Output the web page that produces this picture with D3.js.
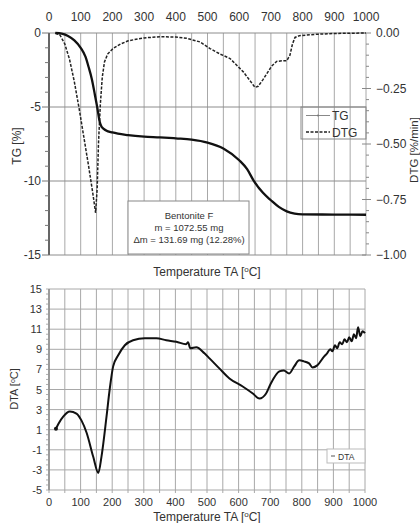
<!DOCTYPE html>
<html>
<head>
<meta charset="utf-8">
<script src="https://cdn.jsdelivr.net/npm/d3@7.9.0/dist/d3.min.js"></script>
<style>
  body { margin: 0; background: #fff; }
  text { font-family: "Liberation Sans", Arial, sans-serif; fill: #333; }
</style>
</head>
<body>
<svg id="chart" width="420" height="523"></svg>
<script>
// values
const tempTicks = [0, 100, 200, 300, 400, 500, 600, 700, 800, 900, 1000];
const tgTicks = [0, -5, -10, -15];
const dtgTicks = [0, -0.25, -0.5, -0.75, -1];
const dtaTicks = [15, 13, 11, 9, 7, 5, 3, 1, -1, -3, -5];

const tgTemp = [20, 40, 60, 80, 100, 115, 125, 135, 145, 152, 160, 166, 180, 200, 250, 300, 350, 400, 450, 500, 550, 600, 625, 645, 675, 700, 725, 750, 775, 800, 900, 1000];
const tgValue = [0, -0.05, -0.2, -0.5, -1.0, -1.6, -2.3, -3.1, -4.2, -5.0, -6.0, -6.35, -6.58, -6.72, -6.9, -7.0, -7.05, -7.12, -7.2, -7.4, -7.8, -8.6, -9.2, -9.95, -10.8, -11.3, -11.75, -12.05, -12.2, -12.25, -12.27, -12.28];

const dtgTemp = [20, 35, 50, 65, 80, 95, 110, 125, 138, 147, 152, 156, 162, 168, 175, 185, 202, 225, 250, 300, 350, 400, 434, 476, 508, 540, 571, 613, 650, 660, 675, 702, 718, 735, 750, 760, 768, 776, 790, 842, 900, 1000];
const dtgValue = [0, -0.01, -0.05, -0.12, -0.22, -0.34, -0.47, -0.6, -0.72, -0.81, -0.7, -0.5, -0.32, -0.2, -0.13, -0.095, -0.07, -0.05, -0.035, -0.022, -0.017, -0.018, -0.024, -0.04, -0.07, -0.095, -0.115, -0.175, -0.245, -0.24, -0.21, -0.15, -0.128, -0.125, -0.125, -0.1, -0.05, -0.02, -0.012, -0.006, -0.002, 0];

const dtaTemp = [22, 30, 45, 66, 87, 103, 119, 140, 156, 166, 182, 192, 203, 219, 240, 266, 303, 340, 371, 403, 434, 440, 447, 466, 492, 508, 539, 571, 613, 645, 666, 687, 702, 729, 743, 760, 776, 792, 807, 823, 834, 849, 871, 880, 890, 897, 905, 912, 920, 928, 935, 943, 950, 958, 965, 972, 978, 985, 992, 1000];
const dtaValue = [1.1, 1.6, 2.3, 2.8, 2.6, 1.9, 0.7, -1.7, -3.3, -1.7, 2.3, 5.0, 7.3, 8.4, 9.4, 9.9, 10.1, 10.1, 9.9, 9.75, 9.5, 9.7, 9.1, 9.2, 8.6, 8.1, 7.1, 6.1, 5.3, 4.6, 4.1, 4.6, 5.6, 6.8, 6.9, 6.6, 7.3, 7.9, 7.8, 7.6, 7.2, 7.4, 8.3, 8.6, 9.0, 8.8, 9.4, 9.1, 9.7, 9.5, 10.0, 9.7, 10.2, 9.8, 10.5, 10.1, 11.2, 10.3, 10.8, 10.6];

const boxLines = ['Bentonite F', 'm = 1072.55 mg', '\u0394m = 131.69 mg (12.28%)'];

const svg = d3.select('#chart');
const gridColor = '#a8a8a8';

// scales
const xTop = d3.scaleLinear().domain([0, 1000]).range([49, 366]);
const yTG = d3.scaleLinear().domain([-15, 0]).range([255, 33]);
const yDTG = d3.scaleLinear().domain([-1, 0]).range([255, 33]);
const xBot = d3.scaleLinear().domain([0, 1000]).range([49, 365]);
const yDTA = d3.scaleLinear().domain([-5, 15]).range([490, 289]);

function tempLabel(g, x, y) {
  const t = g.append('text').attr('x', x).attr('y', y)
    .attr('text-anchor', 'middle').attr('font-size', 12);
  t.append('tspan').text('Temperature TA [');
  t.append('tspan').attr('font-size', 8).attr('dy', -4).text('o');
  t.append('tspan').attr('dy', 4).text('C]');
}

// ---------- top panel: TG / DTG ----------
const topPanel = svg.append('g');

topPanel.selectAll('line.vgrid').data(d3.range(0, 1001, 50)).join('line')
  .attr('x1', d => xTop(d)).attr('x2', d => xTop(d))
  .attr('y1', yTG(0)).attr('y2', yTG(-15))
  .attr('stroke', gridColor).attr('stroke-width', 1);

topPanel.selectAll('line.hgrid').data(tgTicks).join('line')
  .attr('x1', xTop(0)).attr('x2', xTop(1000))
  .attr('y1', d => yTG(d)).attr('y2', d => yTG(d))
  .attr('stroke', '#8c8c8c').attr('stroke-width', 1);

// left axis
topPanel.append('line').attr('x1', xTop(0)).attr('x2', xTop(0))
  .attr('y1', yTG(0)).attr('y2', yTG(-15)).attr('stroke', '#666').attr('stroke-width', 2);
topPanel.selectAll('line.lminor').data(d3.range(-15, 0.5, 1)).join('line')
  .attr('x1', d => xTop(0) - (d % 5 === 0 ? 7 : 4)).attr('x2', xTop(0))
  .attr('y1', d => yTG(d)).attr('y2', d => yTG(d))
  .attr('stroke', '#777').attr('stroke-width', 1);
topPanel.selectAll('text.ltick').data(tgTicks).join('text')
  .attr('x', 41).attr('y', d => yTG(d) + 4)
  .attr('text-anchor', 'end').attr('font-size', 12).text(d => d);

// right axis
topPanel.selectAll('line.rminor').data(d3.range(0, 21)).join('line')
  .attr('x1', d => xTop(1000) - (d % 5 === 0 ? 4 : 0)).attr('x2', d => xTop(1000) + (d % 5 === 0 ? 5 : 3))
  .attr('y1', d => yDTG(-d * 0.05)).attr('y2', d => yDTG(-d * 0.05))
  .attr('stroke', '#888').attr('stroke-width', 1);
topPanel.selectAll('text.rtick').data(dtgTicks).join('text')
  .attr('x', 376).attr('y', d => yDTG(d) + 4)
  .attr('font-size', 12).text(d => d3.format('.2f')(d));

// top temperature ticks
topPanel.selectAll('text.ttick').data(tempTicks).join('text')
  .attr('x', d => xTop(d)).attr('y', 21)
  .attr('text-anchor', 'middle').attr('font-size', 12).text(d => d);

topPanel.append('text').attr('transform', 'translate(21,146) rotate(-90)')
  .attr('text-anchor', 'middle').attr('font-size', 12).text('TG [%]');
topPanel.append('text').attr('transform', 'translate(418,150) rotate(-90)')
  .attr('text-anchor', 'middle').attr('font-size', 11.5).text('DTG [%/min]');
tempLabel(topPanel, 207, 276);

// curves
const tgLine = d3.line().x(d => xTop(d[0])).y(d => yTG(d[1])).curve(d3.curveMonotoneX);
const dtgLine = d3.line().x(d => xTop(d[0])).y(d => yDTG(d[1]));

topPanel.append('path').datum(d3.zip(dtgTemp, dtgValue)).attr('d', dtgLine)
  .attr('fill', 'none').attr('stroke', '#222').attr('stroke-width', 1.5)
  .attr('stroke-dasharray', '3,1.5');
topPanel.append('path').datum(d3.zip(tgTemp, tgValue)).attr('d', tgLine)
  .attr('fill', 'none').attr('stroke', '#111').attr('stroke-width', 2.3);

// legend
const leg = topPanel.append('g');
leg.append('rect').attr('x', 301).attr('y', 107).attr('width', 65).attr('height', 32)
  .attr('fill', 'none').attr('stroke', '#888');
leg.append('line').attr('x1', 306).attr('x2', 330).attr('y1', 115.5).attr('y2', 115.5)
  .attr('stroke', '#888').attr('stroke-width', 1);
leg.append('circle').attr('cx', 318).attr('cy', 115.5).attr('r', 1).attr('fill', '#777');
leg.append('text').attr('x', 332).attr('y', 120).attr('font-size', 12).text('TG');
leg.append('line').attr('x1', 306).attr('x2', 330).attr('y1', 132).attr('y2', 132)
  .attr('stroke', '#222').attr('stroke-width', 1.4).attr('stroke-dasharray', '3,1.5');
leg.append('text').attr('x', 332).attr('y', 136.5).attr('font-size', 12).text('DTG');

// sample box
const box = topPanel.append('g');
box.append('rect').attr('x', 128).attr('y', 201).attr('width', 121).attr('height', 53)
  .attr('fill', '#fff').attr('stroke', '#888');
box.selectAll('text').data(boxLines).join('text')
  .attr('x', 189).attr('y', (d, i) => 219 + i * 12)
  .attr('text-anchor', 'middle').attr('font-size', 9.5).text(d => d);

// ---------- bottom panel: DTA ----------
const botPanel = svg.append('g');

botPanel.selectAll('line.vgrid').data(d3.range(0, 1001, 50)).join('line')
  .attr('x1', d => xBot(d)).attr('x2', d => xBot(d))
  .attr('y1', yDTA(15)).attr('y2', yDTA(-5) + 3)
  .attr('stroke', gridColor).attr('stroke-width', 1);
botPanel.selectAll('line.hgrid').data(dtaTicks).join('line')
  .attr('x1', xBot(0)).attr('x2', xBot(1000))
  .attr('y1', d => yDTA(d)).attr('y2', d => yDTA(d))
  .attr('stroke', gridColor).attr('stroke-width', 1);

botPanel.append('line').attr('x1', xBot(0)).attr('x2', xBot(0))
  .attr('y1', yDTA(15)).attr('y2', yDTA(-5)).attr('stroke', '#888').attr('stroke-width', 1.5);
botPanel.selectAll('line.lminor').data(d3.range(-5, 15.1, 0.5)).join('line')
  .attr('x1', xBot(0) - 3).attr('x2', xBot(0))
  .attr('y1', d => yDTA(d)).attr('y2', d => yDTA(d))
  .attr('stroke', '#999').attr('stroke-width', 0.8);
botPanel.selectAll('text.ltick').data(dtaTicks).join('text')
  .attr('x', 42).attr('y', d => yDTA(d) + 4)
  .attr('text-anchor', 'end').attr('font-size', 11).text(d => d);

botPanel.selectAll('text.btick').data(tempTicks).join('text')
  .attr('x', d => xBot(d)).attr('y', 506)
  .attr('text-anchor', 'middle').attr('font-size', 11).text(d => d);

const dtaTitle = botPanel.append('text').attr('transform', 'translate(18,389) rotate(-90)')
  .attr('text-anchor', 'middle').attr('font-size', 11);
dtaTitle.append('tspan').text('DTA [');
dtaTitle.append('tspan').attr('font-size', 7).attr('dy', -3).text('o');
dtaTitle.append('tspan').attr('dy', 3).text('C]');
tempLabel(botPanel, 207, 521);

const dtaLine = d3.line().x(d => xBot(d[0])).y(d => yDTA(d[1])).curve(d3.curveMonotoneX);
botPanel.append('path').datum(d3.zip(dtaTemp, dtaValue)).attr('d', dtaLine)
  .attr('fill', 'none').attr('stroke', '#111').attr('stroke-width', 2);
botPanel.append('circle').attr('cx', xBot(dtaTemp[0])).attr('cy', yDTA(dtaValue[0]))
  .attr('r', 2).attr('fill', '#111');

// DTA legend
const leg2 = botPanel.append('g');
leg2.append('rect').attr('x', 327).attr('y', 449).attr('width', 38).attr('height', 14)
  .attr('fill', '#fff').attr('stroke', '#bbb');
leg2.append('line').attr('x1', 331).attr('x2', 335).attr('y1', 456).attr('y2', 456)
  .attr('stroke', '#555').attr('stroke-width', 1);
leg2.append('text').attr('x', 338).attr('y', 459.5).attr('font-size', 8.5).text('DTA');
</script>
</body>
</html>
